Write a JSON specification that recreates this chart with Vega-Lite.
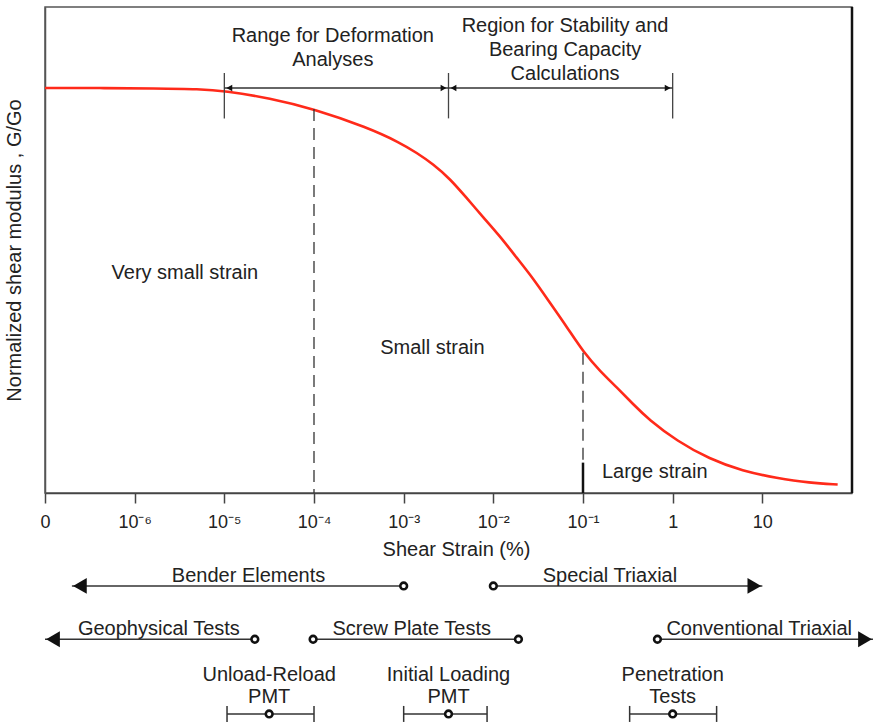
{
  "$schema": "https://vega.github.io/schema/vega-lite/v6.json",
  "background": "white",
  "padding": {"left": 3, "top": 5, "right": 0, "bottom": 0},
  "spacing": 3,
  "config": {
    "font": "Liberation Sans",
    "text": {"font": "Liberation Sans", "fontSize": 20, "color": "#222"},
    "axis": {"labelFont": "Liberation Sans", "titleFont": "Liberation Sans"}
  },
  "datasets": {
    "curve": [
      {"log_strain": -7.0, "g_ratio": 1.0},
      {"log_strain": -6.39, "g_ratio": 1.0},
      {"log_strain": -5.77, "g_ratio": 0.999},
      {"log_strain": -5.27, "g_ratio": 0.9975},
      {"log_strain": -5.0, "g_ratio": 0.993},
      {"log_strain": -4.49, "g_ratio": 0.975},
      {"log_strain": -4.0, "g_ratio": 0.948},
      {"log_strain": -3.41, "g_ratio": 0.903},
      {"log_strain": -3.04, "g_ratio": 0.865},
      {"log_strain": -2.855, "g_ratio": 0.84},
      {"log_strain": -2.67, "g_ratio": 0.812},
      {"log_strain": -2.48, "g_ratio": 0.775},
      {"log_strain": -2.3, "g_ratio": 0.729},
      {"log_strain": -2.11, "g_ratio": 0.68},
      {"log_strain": -1.93, "g_ratio": 0.635},
      {"log_strain": -1.74, "g_ratio": 0.581},
      {"log_strain": -1.55, "g_ratio": 0.528},
      {"log_strain": -1.37, "g_ratio": 0.47},
      {"log_strain": -1.18, "g_ratio": 0.41},
      {"log_strain": -0.99, "g_ratio": 0.346},
      {"log_strain": -0.81, "g_ratio": 0.301},
      {"log_strain": -0.62, "g_ratio": 0.26},
      {"log_strain": -0.44, "g_ratio": 0.219},
      {"log_strain": -0.27, "g_ratio": 0.182},
      {"log_strain": 0.05, "g_ratio": 0.128},
      {"log_strain": 0.41, "g_ratio": 0.084},
      {"log_strain": 0.78, "g_ratio": 0.054},
      {"log_strain": 1.16, "g_ratio": 0.037},
      {"log_strain": 1.53, "g_ratio": 0.025},
      {"log_strain": 1.84, "g_ratio": 0.021}
    ],
    "dashed_markers": [
      {"at": -4.0, "top": 0.948, "bottom": 0.0},
      {"at": -1.0, "top": 0.346, "bottom": 0.075}
    ],
    "solid_marker": [
      {"at": -1.0, "top": 0.075, "bottom": 0.0}
    ],
    "bracket_bars": [
      {"at": -5.0, "top": 1.037, "bottom": 0.925},
      {"at": -2.5, "top": 1.037, "bottom": 0.925},
      {"at": 0.0, "top": 1.037, "bottom": 0.925}
    ],
    "ranges": [
      {"name": "Range for Deformation\nAnalyses", "lo": -5.0, "hi": -2.5, "label_x": -3.79, "label_g": 1.128, "level": 1.0},
      {"name": "Region for Stability and\nBearing Capacity\nCalculations", "lo": -2.5, "hi": 0.0, "label_x": -1.2, "label_g": 1.153, "level": 1.0}
    ],
    "regions": [
      {"name": "Very small strain", "at": -5.44, "g_ratio": 0.543},
      {"name": "Small strain", "at": -2.68, "g_ratio": 0.358},
      {"name": "Large strain", "at": -0.2, "g_ratio": 0.052}
    ],
    "frame_right": [
      {"at": 2.0, "top": 1.2, "bottom": 0.0}
    ],
    "methods": [
      {"name": "Bender Elements", "lane": 1, "lo": -6.7, "hi": -3.0, "label_x": -4.73},
      {"name": "Special Triaxial", "lane": 1, "lo": -2.0, "hi": 1.0, "label_x": -0.7},
      {"name": "Geophysical Tests", "lane": 2, "lo": -7.0, "hi": -4.66, "label_x": -5.73},
      {"name": "Screw Plate Tests", "lane": 2, "lo": -4.01, "hi": -1.72, "label_x": -2.91},
      {"name": "Conventional Triaxial", "lane": 2, "lo": -0.17, "hi": 2.234, "label_x": 0.965},
      {"name": "Unload-Reload\nPMT", "lane": 3.4, "lo": -4.97, "hi": -4.0, "label_x": -4.5},
      {"name": "Initial Loading\nPMT", "lane": 3.4, "lo": -3.0, "hi": -2.07, "label_x": -2.5},
      {"name": "Penetration\nTests", "lane": 3.4, "lo": -0.48, "hi": 0.49, "label_x": 0.0}
    ],
    "method_points": [
      {"lane": 1, "at": -3.0}, {"lane": 1, "at": -2.0},
      {"lane": 2, "at": -4.66}, {"lane": 2, "at": -4.01}, {"lane": 2, "at": -1.72}, {"lane": 2, "at": -0.17},
      {"lane": 3.4, "at": -4.5}, {"lane": 3.4, "at": -2.5}, {"lane": 3.4, "at": 0.0}
    ],
    "tips_left": [{"lane": 1, "at": -6.7}, {"lane": 2, "at": -7.0}],
    "tips_right": [{"lane": 1, "at": 1.0}, {"lane": 2, "at": 2.234}],
    "caps": [
      {"lane": 3.4, "at": -4.97}, {"lane": 3.4, "at": -4.0},
      {"lane": 3.4, "at": -3.0}, {"lane": 3.4, "at": -2.07},
      {"lane": 3.4, "at": -0.48}, {"lane": 3.4, "at": 0.49}
    ]
  },
  "vconcat": [
    {
      "width": 807,
      "height": 486,
      "view": {"stroke": "#555", "strokeWidth": 1.5},
      "layer": [
        {
          "data": {"name": "curve"},
          "mark": {"type": "line", "color": "#ff2a1a", "strokeWidth": 2.6, "interpolate": "basis"},
          "encoding": {
            "x": {
              "field": "log_strain", "type": "quantitative",
              "scale": {"domain": [-7, 2], "nice": false, "zero": false},
              "axis": {
                "title": "Shear Strain (%)",
                "values": [-7, -6, -5, -4, -3, -2, -1, 0, 1],
                "labelExpr": "datum.value === -7 ? '0' : datum.value === 0 ? '1' : datum.value === 1 ? '10' : '10⁻' + ['', '¹', '²', '³', '⁴', '⁵', '⁶'][-datum.value]",
                "grid": false,
                "domainColor": "#444", "domainWidth": 1.5,
                "tickColor": "#444", "tickWidth": 1.5, "tickSize": 10,
                "labelFontSize": 18, "labelColor": "#222", "labelPadding": 10, "labelFlush": false,
                "titleFontSize": 20, "titleFontWeight": "normal", "titleColor": "#222", "titlePadding": 8,
                "titleX": 411
              }
            },
            "y": {
              "field": "g_ratio", "type": "quantitative",
              "scale": {"domain": [0, 1.2], "nice": false},
              "axis": {
                "title": "Normalized shear modulus , G/Go",
                "labels": false, "ticks": false, "grid": false,
                "domainColor": "#555", "domainWidth": 1.5,
                "titleFontSize": 20, "titleFontWeight": "normal", "titleColor": "#222", "titlePadding": 21
              }
            }
          }
        },
        {
          "data": {"name": "dashed_markers"},
          "mark": {"type": "rule", "color": "#333", "strokeWidth": 1.3, "strokeDash": [12, 7]},
          "encoding": {
            "x": {"field": "at", "type": "quantitative"},
            "y": {"field": "top", "type": "quantitative"},
            "y2": {"field": "bottom"}
          }
        },
        {
          "data": {"name": "solid_marker"},
          "mark": {"type": "rule", "color": "#111", "strokeWidth": 2.5},
          "encoding": {
            "x": {"field": "at", "type": "quantitative"},
            "y": {"field": "top", "type": "quantitative"},
            "y2": {"field": "bottom"}
          }
        },
        {
          "data": {"name": "bracket_bars"},
          "mark": {"type": "rule", "color": "#444", "strokeWidth": 1.3},
          "encoding": {
            "x": {"field": "at", "type": "quantitative"},
            "y": {"field": "top", "type": "quantitative"},
            "y2": {"field": "bottom"}
          }
        },
        {
          "data": {"name": "ranges"},
          "mark": {"type": "rule", "color": "#333", "strokeWidth": 1.4},
          "encoding": {
            "x": {"field": "lo", "type": "quantitative"},
            "x2": {"field": "hi"},
            "y": {"field": "level", "type": "quantitative"}
          }
        },
        {
          "data": {"name": "ranges"},
          "mark": {"type": "point", "shape": "triangle-left", "filled": true, "color": "#111", "size": 45, "opacity": 1, "xOffset": 5},
          "encoding": {
            "x": {"field": "lo", "type": "quantitative"},
            "y": {"field": "level", "type": "quantitative"}
          }
        },
        {
          "data": {"name": "ranges"},
          "mark": {"type": "point", "shape": "triangle-right", "filled": true, "color": "#111", "size": 45, "opacity": 1, "xOffset": -5},
          "encoding": {
            "x": {"field": "hi", "type": "quantitative"},
            "y": {"field": "level", "type": "quantitative"}
          }
        },
        {
          "data": {"name": "ranges"},
          "mark": {"type": "text", "lineBreak": "\n", "lineHeight": 24, "baseline": "middle", "align": "center", "fontSize": 20, "color": "#222"},
          "encoding": {
            "x": {"field": "label_x", "type": "quantitative"},
            "y": {"field": "label_g", "type": "quantitative"},
            "text": {"field": "name"}
          }
        },
        {
          "data": {"name": "regions"},
          "mark": {"type": "text", "baseline": "middle", "align": "center", "fontSize": 20, "color": "#222"},
          "encoding": {
            "x": {"field": "at", "type": "quantitative"},
            "y": {"field": "g_ratio", "type": "quantitative"},
            "text": {"field": "name"}
          }
        },
        {
          "data": {"name": "frame_right"},
          "mark": {"type": "rule", "color": "#111", "strokeWidth": 2.5},
          "encoding": {
            "x": {"field": "at", "type": "quantitative"},
            "y": {"field": "top", "type": "quantitative"},
            "y2": {"field": "bottom"}
          }
        }
      ]
    },
    {
      "width": 828,
      "height": 160,
      "view": {"stroke": null},
      "layer": [
        {
          "data": {"name": "methods"},
          "mark": {"type": "rule", "color": "#333", "strokeWidth": 1.5},
          "encoding": {
            "x": {
              "field": "lo", "type": "quantitative",
              "scale": {"domain": [-7, 2.234], "nice": false, "zero": false},
              "axis": null
            },
            "x2": {"field": "hi"},
            "y": {
              "field": "lane", "type": "quantitative",
              "scale": {"domain": [0.57, 3.57], "nice": false, "zero": false, "reverse": true},
              "axis": null
            }
          }
        },
        {
          "data": {"name": "caps"},
          "mark": {"type": "rule", "color": "#333", "strokeWidth": 1.5, "yOffset": -8, "y2Offset": 8},
          "encoding": {
            "x": {"field": "at", "type": "quantitative"},
            "y": {"field": "lane", "type": "quantitative"},
            "y2": {"field": "lane"}
          }
        },
        {
          "data": {"name": "method_points"},
          "mark": {"type": "point", "shape": "circle", "filled": true, "color": "white", "stroke": "#111", "strokeWidth": 2.6, "size": 45, "opacity": 1},
          "encoding": {
            "x": {"field": "at", "type": "quantitative"},
            "y": {"field": "lane", "type": "quantitative"}
          }
        },
        {
          "data": {"name": "tips_left"},
          "mark": {"type": "point", "shape": "triangle-left", "filled": true, "color": "#111", "size": 250, "opacity": 1, "xOffset": 8},
          "encoding": {
            "x": {"field": "at", "type": "quantitative"},
            "y": {"field": "lane", "type": "quantitative"}
          }
        },
        {
          "data": {"name": "tips_right"},
          "mark": {"type": "point", "shape": "triangle-right", "filled": true, "color": "#111", "size": 250, "opacity": 1, "xOffset": -8},
          "encoding": {
            "x": {"field": "at", "type": "quantitative"},
            "y": {"field": "lane", "type": "quantitative"}
          }
        },
        {
          "data": {"name": "methods"},
          "transform": [{"filter": "datum.lane < 3"}],
          "mark": {"type": "text", "baseline": "alphabetic", "align": "center", "dy": -4, "fontSize": 20, "color": "#222"},
          "encoding": {
            "x": {"field": "label_x", "type": "quantitative"},
            "y": {"field": "lane", "type": "quantitative"},
            "text": {"field": "name"}
          }
        },
        {
          "data": {"name": "methods"},
          "transform": [{"filter": "datum.lane > 3"}],
          "mark": {"type": "text", "lineBreak": "\n", "lineHeight": 22, "baseline": "middle", "align": "center", "dy": -39, "fontSize": 20, "color": "#222"},
          "encoding": {
            "x": {"field": "label_x", "type": "quantitative"},
            "y": {"field": "lane", "type": "quantitative"},
            "text": {"field": "name"}
          }
        }
      ]
    }
  ]
}
